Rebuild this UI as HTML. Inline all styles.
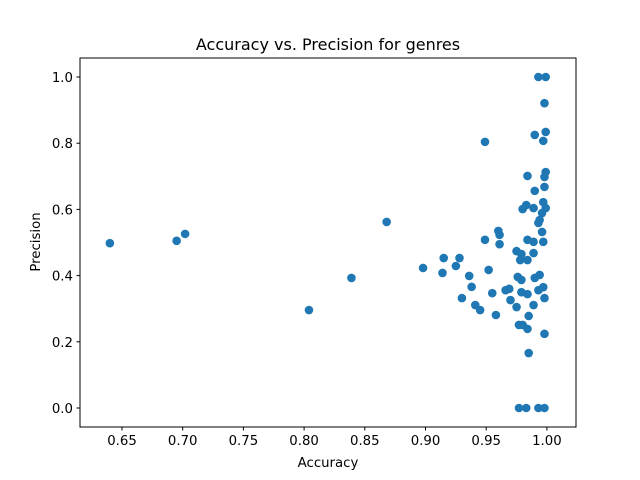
<!DOCTYPE html>
<html><head><meta charset="utf-8"><style>body{margin:0;background:#fff}svg{display:block}text{font-family:"DejaVu Sans","Liberation Sans",sans-serif;fill:#000}</style></head>
<body>
<svg id="chart" width="640" height="480" viewBox="0 0 640 480" xmlns="http://www.w3.org/2000/svg">
<rect width="640" height="480" fill="#fff"/>
<text x="328" y="50" font-size="16" text-anchor="middle">Accuracy vs. Precision for genres</text>
<g id="marks"></g>
<rect x="80" y="58" width="496" height="369" fill="none" stroke="#000" stroke-width="1"/>
<g id="xticks"></g>
<g id="yticks"></g>
<text x="328" y="467" font-size="13.3" text-anchor="middle">Accuracy</text>
<text x="40" y="242" font-size="13.3" text-anchor="middle" transform="rotate(-90 40 242)">Precision</text>
</svg>
<script>
const accuracy = [0.640,0.695,0.702,0.804,0.839,0.868,0.898,0.915,0.928,0.914,0.925,0.936,0.949,0.949,0.961,0.961,0.960,0.952,0.938,0.930,0.941,0.945,0.955,0.958,0.966,0.969,0.970,0.975,0.975,0.979,0.978,0.984,0.989,0.984,0.989,0.997,0.996,0.976,0.979,0.979,0.984,0.990,0.994,0.997,0.993,0.998,0.989,0.985,0.977,0.980,0.984,0.998,0.985,0.977,0.983,0.993,0.998,0.993,0.999,0.998,0.990,0.999,0.997,0.984,0.999,0.998,0.998,0.990,0.997,0.983,0.989,0.980,0.999,0.996,0.994,0.993];
const precision = [0.498,0.505,0.526,0.296,0.393,0.562,0.423,0.453,0.453,0.408,0.429,0.399,0.804,0.508,0.495,0.523,0.535,0.417,0.366,0.332,0.311,0.296,0.347,0.281,0.356,0.360,0.326,0.305,0.474,0.465,0.447,0.447,0.468,0.508,0.502,0.502,0.532,0.396,0.387,0.350,0.344,0.393,0.402,0.365,0.356,0.332,0.311,0.278,0.251,0.251,0.239,0.224,0.166,0,0,0,0,1.0,1.0,0.921,0.825,0.834,0.807,0.701,0.713,0.698,0.668,0.656,0.622,0.613,0.604,0.601,0.604,0.589,0.568,0.559];
const xTickValues = [0.65,0.70,0.75,0.80,0.85,0.90,0.95,1.00];
const xTickLabels = ["0.65","0.70","0.75","0.80","0.85","0.90","0.95","1.00"];
const yTickValues = [0,0.2,0.4,0.6,0.8,1.0];
const yTickLabels = ["0.0","0.2","0.4","0.6","0.8","1.0"];
const NS="http://www.w3.org/2000/svg";
function xs(v){return 122+(v-0.65)*1214;}
function ys(v){return 408-v*331;}
const marks=document.getElementById('marks');
for(let i=0;i<accuracy.length;i++){
  const c=document.createElementNS(NS,'circle');
  c.setAttribute('cx',xs(accuracy[i]));c.setAttribute('cy',ys(precision[i]));
  c.setAttribute('r',4.3);c.setAttribute('fill','#1f77b4');
  
  
  marks.appendChild(c);
}
const xg=document.getElementById('xticks');
xTickValues.forEach((v,i)=>{
  const x=xs(v);
  const l=document.createElementNS(NS,'line');
  l.setAttribute('x1',x);l.setAttribute('x2',x);l.setAttribute('y1',427);l.setAttribute('y2',430.5);l.setAttribute('stroke','#000');
  
  
  xg.appendChild(l);
  const t=document.createElementNS(NS,'text');
  t.setAttribute('x',x);t.setAttribute('y',445);t.setAttribute('font-size','13.3');t.setAttribute('text-anchor','middle');
  t.textContent=xTickLabels[i];
  
  
  xg.appendChild(t);
});
const yg=document.getElementById('yticks');
yTickValues.forEach((v,i)=>{
  const y=ys(v);
  const l=document.createElementNS(NS,'line');
  l.setAttribute('x1',76.5);l.setAttribute('x2',80);l.setAttribute('y1',y);l.setAttribute('y2',y);l.setAttribute('stroke','#000');
  
  
  yg.appendChild(l);
  const t=document.createElementNS(NS,'text');
  t.setAttribute('x',73);t.setAttribute('y',y+5);t.setAttribute('font-size','13.3');t.setAttribute('text-anchor','end');
  t.textContent=yTickLabels[i];
  
  
  yg.appendChild(t);
});
</script>
</body></html>
